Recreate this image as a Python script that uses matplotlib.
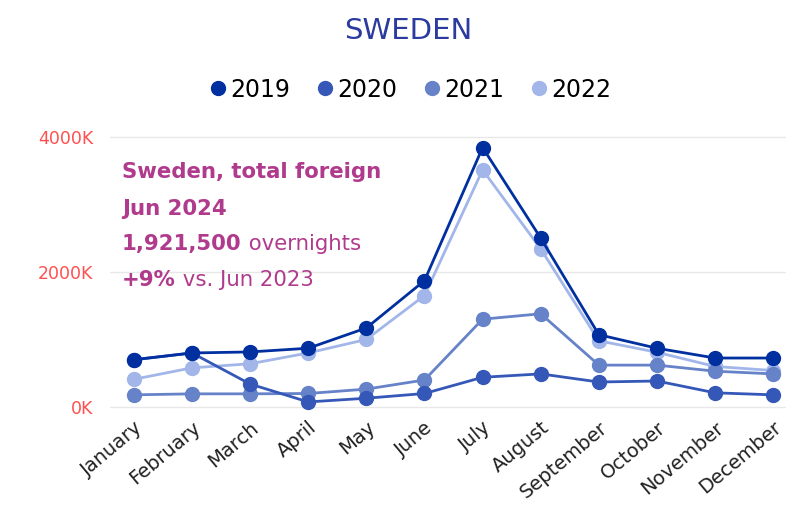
import matplotlib.pyplot as plt
from matplotlib.lines import Line2D

months = ['January', 'February', 'March', 'April', 'May', 'June', 'July',
          'August', 'September', 'October', 'November', 'December']
years = ['2019', '2020', '2021', '2022']
# overnights in thousands
y2019 = [700, 800, 815, 870, 1170, 1870, 3840, 2500, 1070, 870, 725, 725]
y2020 = [700, 800, 340, 75, 130, 200, 440, 490, 370, 385, 210, 180]
y2021 = [180, 195, 195, 200, 265, 400, 1300, 1380, 620, 620, 530, 490]
y2022 = [410, 580, 640, 800, 1000, 1650, 3510, 2340, 980, 810, 600, 540]
yticks = [0, 2000, 4000]

colors = ['#0030A0', '#3558B8', '#6682C8', '#A2B6EA']
series = [y2019, y2020, y2021, y2022]

fig = plt.figure(figsize=(7.86, 5.12), dpi=100)
ax = fig.add_axes([0.14, 0.1945, 0.86, 0.5516])

x = list(range(len(months)))
# draw lighter years first so 2019 is on top
for i in [3, 2, 1, 0]:
    ax.plot(x, series[i], color=colors[i], lw=2.0, marker='o', ms=10,
            solid_joinstyle='round', zorder=3 + (3 - i))

ax.set_xlim(-0.41, 11.22)
ax.set_ylim(-80, 4100)
ax.set_yticks(yticks)
ax.set_yticklabels([f'{v}K' for v in yticks], color='#FF5050', fontsize=12.5)
ax.set_xticks(x)
ax.set_xticklabels(months, rotation=40, ha='right', rotation_mode='anchor',
                   fontsize=14, color='#222222')
ax.tick_params(length=0, pad=4)
ax.tick_params(axis='y', pad=12)
ax.grid(axis='y', color='#E8E8E8', lw=1)
ax.set_axisbelow(True)
for s in ax.spines.values():
    s.set_visible(False)

fig.text(0.52, 0.94, 'SWEDEN', ha='center', va='center', fontsize=21,
         color='#2B3A9E')

handles = [Line2D([], [], ls='none', marker='o', ms=10, color=c) for c in colors]
fig.legend(handles, years, loc='center', bbox_to_anchor=(0.52, 0.825), ncol=4,
           frameon=False, fontsize=17, handletextpad=0.0, columnspacing=1.0,
           handlelength=1.0)

# annotation block
purple = '#B03A8C'
fig.canvas.draw()
rend = fig.canvas.get_renderer()


def line_parts(y_px, parts):
    xpos = 122
    for txt, weight in parts:
        t = fig.text(xpos / 786, 1 - y_px / 512, txt, ha='left', va='center',
                     fontsize=15.3, color=purple, fontweight=weight)
        bb = t.get_window_extent(renderer=rend)
        xpos += bb.width


line_parts(172, [('Sweden, total foreign', 'bold')])
line_parts(209, [('Jun 2024', 'bold')])
line_parts(244, [('1,921,500', 'bold'), (' overnights', 'normal')])
line_parts(280, [('+9%', 'bold'), (' vs. Jun 2023', 'normal')])

fig.savefig('out.png', dpi=100)
